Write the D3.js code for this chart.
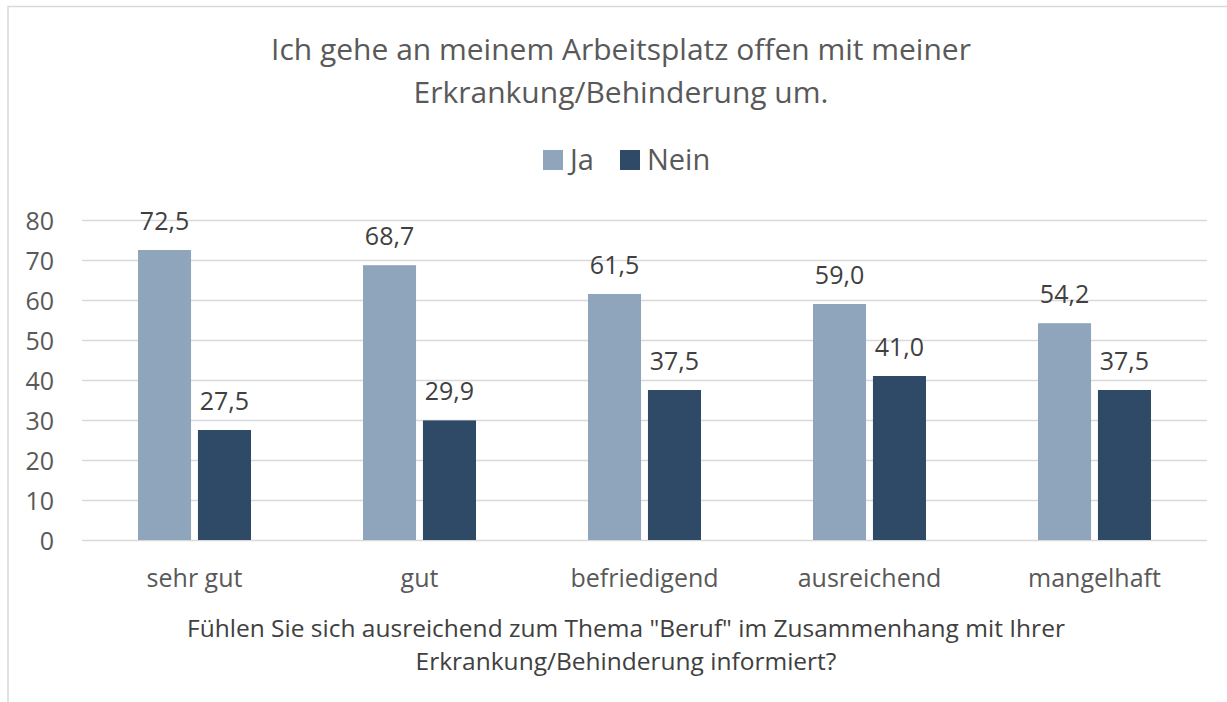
<!DOCTYPE html>
<html><head><meta charset="utf-8">
<script src="https://cdn.jsdelivr.net/npm/d3@7"></script>
<style>body{margin:0;background:#fff;}svg{display:block;font-family:"Open Sans","Noto Sans",sans-serif;}</style>
</head><body>
<svg id="c" width="1227" height="702"></svg>
<script>
const categories = ["sehr gut","gut","befriedigend","ausreichend","mangelhaft"];
const seriesNames = ["Ja","Nein"];
const jaValues = [72.5,68.7,61.5,59.0,54.2];
const neinValues = [27.5,29.9,37.5,41.0,37.5];
const yTicks = [0,10,20,30,40,50,60,70,80];
const titleLines = ["Ich gehe an meinem Arbeitsplatz offen mit meiner","Erkrankung/Behinderung um."];
const axisTitleLines = ["Fühlen Sie sich ausreichend zum Thema \"Beruf\" im Zusammenhang mit Ihrer","Erkrankung/Behinderung informiert?"];
const colors = ["#8FA5BB","#2E4A66"];

(function(){
const svg = d3.select("#c");
svg.append("rect").attr("x",8).attr("y",6.5).attr("width",1300).attr("height",800)
  .attr("fill","#fff").attr("stroke","#d9d9d9").attr("stroke-width",1.5);

const pL=82, pR=1207, pT=220, pB=540;
const x = d3.scaleBand().domain(categories).range([pL,pR]);
const y = d3.scaleLinear().domain([0,80]).range([pB,pT]);
const barW = 50, gap = 13;
const xs = d3.scaleBand().domain(seriesNames).range([0, 2*barW+gap]).paddingInner(gap/(2*barW+gap));

svg.append("g").selectAll("line").data(yTicks).join("line")
  .attr("x1",pL).attr("x2",pR).attr("y1",d=>y(d)+0.5).attr("y2",d=>y(d)+0.5)
  .attr("stroke","#d9d9d9").attr("stroke-width",1.3);

const yAxis = d3.axisLeft(y).tickValues(yTicks).tickSize(0).tickPadding(0);
const ya = svg.append("g").attr("transform",`translate(${54},0)`).call(yAxis);
ya.select(".domain").remove();
ya.selectAll("text").attr("font-size",25).attr("fill","#595959").attr("font-family","'Open Sans','Noto Sans',sans-serif").attr("dy","0.36em");

const data = categories.map((c,i)=>({c, vals:[jaValues[i],neinValues[i]]}));
const groups = svg.append("g").selectAll("g").data(data).join("g")
  .attr("transform",d=>`translate(${x(d.c)+x.bandwidth()/2-(2*barW+gap)/2},0)`);
groups.selectAll("rect").data(d=>d.vals.map((v,j)=>({v,s:seriesNames[j],j}))).join("rect")
  .attr("x",d=>xs(d.s)).attr("width",xs.bandwidth())
  .attr("y",d=>y(d.v)).attr("height",d=>y(0)-y(d.v)).attr("fill",d=>colors[d.j]);
groups.selectAll("text").data(d=>d.vals.map((v,j)=>({v,s:seriesNames[j],j}))).join("text")
  .attr("x",d=>xs(d.s)+xs.bandwidth()/2).attr("y",d=>y(d.v)-20)
  .attr("text-anchor","middle").attr("font-size",25).attr("fill","#404040")
  .text(d=>d3.format(".1f")(d.v).replace(".",","));

const xAxis = d3.axisBottom(x).tickSize(0).tickPadding(0);
const xa = svg.append("g").attr("transform",`translate(0,${pB})`).call(xAxis);
xa.select(".domain").remove();
xa.selectAll("text").attr("font-size",25).attr("fill","#595959").attr("font-family","'Open Sans','Noto Sans',sans-serif").attr("y",47).attr("dy",0);

svg.append("g").selectAll("text").data(titleLines).join("text")
  .attr("x",621).attr("y",(d,i)=>60+i*43).attr("text-anchor","middle")
  .attr("font-size",30).attr("fill","#595959").text(d=>d);

const leg = svg.append("g");
const legItems = [{n:"Ja",x:543},{n:"Nein",x:620}];
legItems.forEach((it,i)=>{
  leg.append("rect").attr("x",it.x).attr("y",150).attr("width",20).attr("height",20).attr("fill",colors[i]);
  leg.append("text").attr("x",it.x+27).attr("y",169.5).attr("font-size",29).attr("fill","#595959").text(it.n);
});

svg.append("g").selectAll("text").data(axisTitleLines).join("text")
  .attr("x",626).attr("y",(d,i)=>637+i*33).attr("text-anchor","middle")
  .attr("font-size",24.5).attr("fill","#404040").text(d=>d);
})();
</script>
</body></html>
